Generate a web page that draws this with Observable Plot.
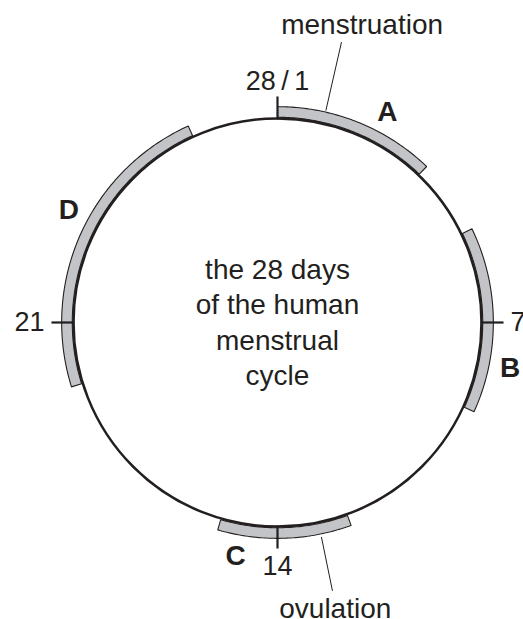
<!DOCTYPE html>
<html>
<head>
<meta charset="utf-8">
<script src="https://cdn.jsdelivr.net/npm/d3@7"></script>
<script src="https://cdn.jsdelivr.net/npm/@observablehq/plot@0.6"></script>
<style>
  html, body { margin: 0; padding: 0; background: #fff; }
  svg { display: block; }
</style>
</head>
<body>
<div id="chart"></div>
<script>
// ---- data (days of a 28-day cycle) ----
const CYCLE_DAYS = 28;
const phaseNames = ["A", "B", "C", "D"];
const phaseStart = [0, 5.0, 12.45, 19.65];
const phaseEnd = [3.4, 8.9, 15.25, 26.1];
const phaseLabelDay = [2.15, 7.86, 14.79, 23.2];
const tickDays = [0, 7, 14, 21];
const tickLabels = ["28\u2009/\u20091", "7", "14", "21"];
const eventNames = ["menstruation", "ovulation"];
const eventLineDay = [1.0, 13.1];
const eventLabelDay = [1.27, 13.08];
const centerLines = ["the 28 days", "of the human", "menstrual", "cycle"];

// ---- layout ----
const W = 523, H = 619, CX = 277, CY = 322, R = 204;
const INK = "#231f20";
const FONT = "Liberation Sans, Arial, Helvetica, sans-serif";

// polar -> unit coordinates (radius 1 = circle)
function pol(day, r) {
  const t = (day / CYCLE_DAYS) * 2 * Math.PI;
  return {x: r * Math.sin(t), y: r * Math.cos(t)};
}

// band polygons
const bandIn = 1.006, bandOut = 1.058;
const bandPts = [];
phaseNames.forEach((p, i) => {
  const s = phaseStart[i], e = phaseEnd[i];
  const n = Math.max(2, Math.ceil((e - s) / 0.05));
  const ring = [];
  for (let k = 0; k <= n; k++) ring.push({...pol(s + (e - s) * k / n, bandOut), phase: p});
  for (let k = n; k >= 0; k--) ring.push({...pol(s + (e - s) * k / n, bandIn), phase: p});
  ring.push({...ring[0]});
  bandPts.push(...ring);
});

const ticks = tickDays.map((d, i) => {
  const a = pol(d, 0.995), b = pol(d, 1.108);
  return {x1: a.x, y1: a.y, x2: b.x, y2: b.y, label: tickLabels[i], day: d};
});

const leaderR = [[1.065, 1.41], [1.073, 1.343]];
const leaders = eventNames.map((n, i) => {
  const a = pol(eventLineDay[i], leaderR[i][0]), b = pol(eventLineDay[i], leaderR[i][1]);
  return {x1: a.x, y1: a.y, x2: b.x, y2: b.y};
});
const eventLabelR = [1.476, 1.382];
const eventAnchor = ["bottom", "top"];

function anchorsFor(day) {
  const t = (day / CYCLE_DAYS) * 2 * Math.PI;
  const s = Math.sin(t), c = Math.cos(t);
  return {
    textAnchor: s > 0.5 ? "start" : s < -0.5 ? "end" : "middle",
    lineAnchor: c > 0.5 ? "bottom" : c < -0.5 ? "top" : "middle"
  };
}

const tickLabelMarks = ticks.map(t => {
  const p = pol(t.day, 1.142);
  const an = anchorsFor(t.day);
  return Plot.text([{...p, label: t.label}], {
    x: "x", y: "y", text: "label",
    textAnchor: an.textAnchor, lineAnchor: an.lineAnchor,
    fontSize: 27, fill: INK, fontFamily: FONT
  });
});

const phaseLabels = phaseNames.map((p, i) => ({...pol(phaseLabelDay[i], 1.162), label: p}));

const eventLabelMarks = eventNames.map((n, i) => Plot.text(
  [{...pol(eventLabelDay[i], eventLabelR[i]), label: n}],
  {x: "x", y: "y", text: "label", textAnchor: "middle", lineAnchor: eventAnchor[i],
   fontSize: 28, fill: INK, fontFamily: FONT}
));

const chart = Plot.plot({
  width: W,
  height: H,
  margin: 0,
  style: {background: "#fff", fontFamily: FONT},
  x: {domain: [-CX / R, (W - CX) / R], axis: null},
  y: {domain: [-(H - CY) / R, CY / R], axis: null},
  marks: [
    Plot.line(bandPts, {x: "x", y: "y", z: "phase", fill: "#c3c4c7", stroke: INK,
      strokeWidth: 1.1, curve: "linear", strokeLinejoin: "miter"}),
    Plot.dot([{x: 0, y: 0}], {x: "x", y: "y", r: R, fill: "none", stroke: INK, strokeWidth: 2.5}),
    Plot.link(ticks, {x1: "x1", y1: "y1", x2: "x2", y2: "y2", stroke: INK, strokeWidth: 2.2}),
    Plot.link(leaders, {x1: "x1", y1: "y1", x2: "x2", y2: "y2", stroke: INK, strokeWidth: 1}),
    ...tickLabelMarks,
    Plot.text(phaseLabels, {x: "x", y: "y", text: "label", textAnchor: "middle", lineAnchor: "middle",
      fontSize: 28, fontWeight: "bold", fill: INK, fontFamily: FONT}),
    ...eventLabelMarks,
    Plot.text([{x: 0, y: 0, label: centerLines.join("\n")}], {x: "x", y: "y", text: "label",
      textAnchor: "middle", lineAnchor: "middle", lineHeight: 1.27, dy: -2,
      fontSize: 28, fill: INK, fontFamily: FONT})
  ]
});
document.getElementById("chart").appendChild(chart);
</script>
</body>
</html>
